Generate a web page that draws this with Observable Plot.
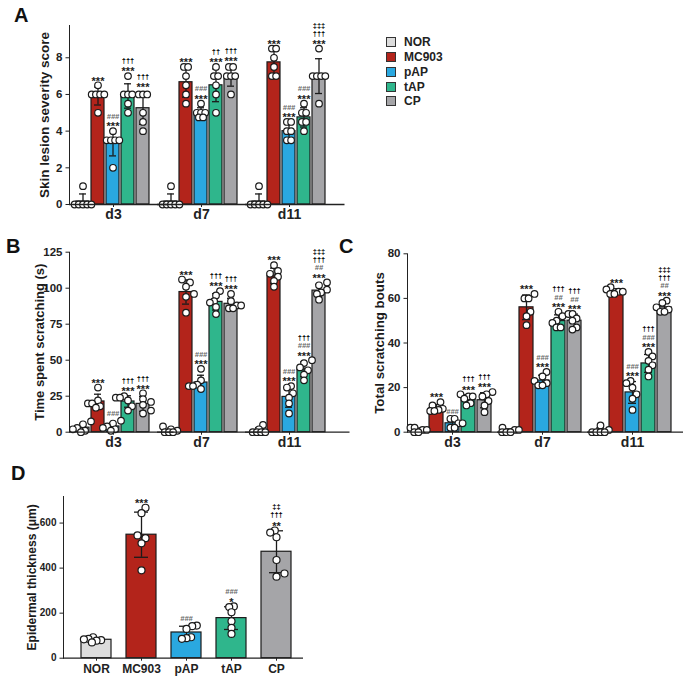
<!DOCTYPE html>
<html><head><meta charset="utf-8">
<script src="https://cdn.jsdelivr.net/npm/d3@7"></script>
<script src="https://cdn.jsdelivr.net/npm/@observablehq/plot@0.6"></script>
<style>
body{margin:0;background:#fff;}
#root{position:relative;width:685px;height:679px;background:#fff;font-family:'Liberation Sans',Arial,sans-serif;overflow:hidden}
.panel{position:absolute}
.letter{position:absolute;font-weight:bold;font-size:20px;line-height:20px;color:#111}
.legend{position:absolute;left:386px;top:35px;font-size:12px;font-weight:bold;color:#222}
.legend .row{height:14.75px;display:flex;align-items:center}
.legend .sw{width:10px;height:10px;box-sizing:border-box;border:1px solid #333;margin-right:8px}
</style></head>
<body><div id="root"></div>
<script>
// ---------- data ----------
const groups = ["NOR", "MC903", "pAP", "tAP", "CP"];
const colors = ["#dcdcdc", "#b3241b", "#2aa8e0", "#2fb68c", "#a5a5a8"];
const days = ["d3", "d7", "d11"];

// A: skin lesion severity score (individual animals, per group)
const skinD3  = [[1,0,0,0,0,0],[6.5,6,6,6,6,5],[4,3.5,3.5,3.5,3.5,2],[7,6,6,6,5.5,5],[6,6,6,5,4.5,4]];
const skinD7  = [[1,0,0,0,0,0],[7.5,7.5,7,6.5,6,5.5],[5.5,5,5,5,4.75,4.75],[7.5,7,7,6.5,6,5],[7.5,7.5,7,7,7,6]];
const skinD11 = [[1,0,0,0,0,0],[8.5,8.5,8,7.5,7,7],[4.5,4.5,4,4,3.5,3.5],[5.5,5,5,4.5,4.5,4],[8.5,7,7,7,7,5.5]];
// B: time spent scratching (s)
const timeD3  = [[7.5,5.5,3,2,1,0],[31,22,20,20,18,17],[8,6,4,3,2,1],[25,24,24,22,18,15],[27,23,21,19,15,13]];
const timeD7  = [[4,2,1,0,0,0],[106,104,101,96,94,83],[44,36,33,32,32,30],[98,95,91,90,87,82],[96,91,88,88,86,86]];
const timeD11 = [[5,2,0,0,0,0],[116,112,110,108,105,101],[32,31,27,24,20,13],[50,48,45,43,40,36],[104,102,99,97,96,92]];
// C: total scratching bouts
const boutsD3  = [[2,2,1,1,0,0],[13.5,12,10.5,10,9.5,9.5],[6,6,4,4,2,2],[17,16,16,15,13,12],[18,17,16,14,12,9]];
const boutsD7  = [[2,1,1,0,0,0],[62,60,60,54,52,48],[27,25,23,22,21,21],[54,52,50,49,47,47],[53,53,51,50,47,46]];
const boutsD11 = [[3,1,0,0,0,0],[65,64,63,63,62,62],[23,22,20,17,15,10],[36,34,32,30,28,25],[59,58,56,55,54,54]];
// D: epidermal thickness (µm)
const epiNOR   = [93,86,84,80,78,70];
const epiMC903 = [668,644,545,533,510,390];
const epiPAP   = [145,142,130,93,89,86];
const epiTAP   = [230,227,204,164,135,108];
const epiCP    = [567,558,537,436,376,362];

// significance marks, top line first
const annA = [
  [[], ["***"], ["###","***"], ["†††","***"], ["†††","***"]],
  [[], ["***"], ["###","***"], ["††","***"], ["†††","***"]],
  [[], ["***"], ["###","***"], ["###","***"], ["‡‡‡","†††","***"]]
];
const annB = [
  [[], ["***"], ["###"], ["†††","***"], ["†††","***"]],
  [[], ["***"], ["###","***"], ["†††","***"], ["†††","***"]],
  [[], ["***"], ["###","***"], ["†††","###","***"], ["‡‡‡","†††","##","***"]]
];
const annC = [
  [[], ["***"], ["###"], ["†††","***"], ["†††","***"]],
  [[], ["***"], ["###","***"], ["†††","##","***"], ["†††","##","***"]],
  [[], ["***"], ["###","***"], ["†††","###","***"], ["‡‡‡","†††","##","***"]]
];
const annD = [[], ["***"], ["###"], ["###","*"], ["‡‡","†††","**"]];

// ---------- helpers ----------
const INK = "#1b1b1b";
const SHIFTS = [0, 4, -4, 8, -8];
function makeSpread(step, minDist) {
  return function (index, scales, values, dims, ctx, next) {
    const X0 = values.x, Y = values.y, X = Array.from(X0);
    for (const idx of d3.group(index, i => Math.round(X0[i])).values()) {
      const order = [...idx].sort((a, b) => Y[b] - Y[a]);
      const rows = [];
      for (const i of order) {
        const r = rows[rows.length - 1];
        if (r && Math.abs(Y[i] - Y[r[0]]) <= 2.5) r.push(i); else rows.push([i]);
      }
      const placed = [];
      for (const row of rows) {
        const base = row.map((_, j) => (j - (row.length - 1) / 2) * step);
        let best = 0, bestScore = -Infinity;
        for (const s of SHIFTS) {
          let m = Infinity;
          row.forEach((i, j) => { for (const [px, py] of placed) m = Math.min(m, Math.hypot(base[j] + s - px, Y[i] - py)); });
          if (m >= minDist) { best = s; break; }
          if (m > bestScore) { bestScore = m; best = s; }
        }
        row.forEach((i, j) => { const o = base[j] + best; X[i] = X0[i] + o; placed.push([o, Y[i]]); });
      }
    }
    return next(index, scales, {...values, x: X}, dims, ctx);
  };
}

const kinds = {
  star:   {fontSize: 11,  fill: INK,    fontStyle: "normal", off: 6.3},
  hash:   {fontSize: 7.5, fill: "#666", fontStyle: "italic", off: 2.6},
  dagger: {fontSize: 7.5, fill: "#000", fontStyle: "normal", off: 2.0}
};

function barPanel(cfg) {
  const faceted = cfg.days.length > 1;
  const bars = [], pts = [], notes = [];
  cfg.days.forEach((day, di) => groups.forEach((g, gi) => {
    const v = cfg.series[di][gi];
    const mean = d3.mean(v), sd = d3.deviation(v);
    const top = Math.max(d3.max(v), mean + sd);
    bars.push({day, group: g, mean, sd, top});
    v.forEach(val => pts.push({day, group: g, v: val}));
    const a = cfg.notes[di][gi];
    a.forEach((s, i) => notes.push({day, group: g, top, s, level: a.length - 1 - i,
      kind: s[0] === "*" ? "star" : s[0] === "#" ? "hash" : "dagger"}));
  }));
  const F = faceted ? {fx: "day"} : {};
  const marks = [
    Plot.barY(bars, {...F, x: "group", y1: 0, y2: "mean", fill: "group", stroke: INK, strokeWidth: 1.2}),
    Plot.ruleX(bars, {...F, x: "group", y1: d => Math.max(0, d.mean - d.sd), y2: d => d.mean + d.sd, stroke: INK, strokeWidth: 1.3}),
    Plot.tickY(bars, {...F, x: "group", y: d => d.mean + d.sd, stroke: INK, strokeWidth: 1.3, insetLeft: cfg.cap, insetRight: cfg.cap}),
    Plot.tickY(bars.filter(d => d.mean - d.sd > 0), {...F, x: "group", y: d => d.mean - d.sd, stroke: INK, strokeWidth: 1.3, insetLeft: cfg.cap, insetRight: cfg.cap}),
    Plot.dot(pts, {...F, x: "group", y: "v", r: cfg.r, fill: "white", stroke: INK, strokeWidth: 1.2, render: makeSpread(cfg.step, 5.5)}),
    Plot.ruleY([0], {stroke: "#222", strokeWidth: 1.3, insetRight: -cfg.extend}),
    Plot.text([cfg.yTitle], {text: d => d, frameAnchor: "left", textAnchor: "middle", lineAnchor: "middle", rotate: -90, dx: cfg.titleDx, fontSize: cfg.titleSize,
      fontWeight: "bold", fill: INK, ...(faceted ? {facetAnchor: "left"} : {})}),
    faceted
      ? Plot.axisFx({anchor: "bottom", label: null, tickSize: 3, tickPadding: 1.5, fontSize: 14, fontWeight: "bold"})
      : Plot.axisX({anchor: "bottom", label: null, tickSize: 3, tickPadding: 3, fontSize: 12, fontWeight: "bold"})
  ];
  for (const [kind, st] of Object.entries(kinds)) for (let k = 0; k < 4; k++) {
    const rows = notes.filter(n => n.kind === kind && n.level === k);
    if (!rows.length) continue;
    marks.push(Plot.text(rows, {...F, x: "group", y: "top", text: "s", lineAnchor: "bottom",
      dy: -(cfg.base + k * cfg.sp) + st.off, fontSize: st.fontSize, fill: st.fill, fontStyle: st.fontStyle, fontWeight: "bold"}));
  }
  const svg = Plot.plot({
    width: cfg.width, height: cfg.height,
    marginLeft: cfg.mL, marginRight: cfg.mR, marginTop: cfg.mT, marginBottom: cfg.mB,
    style: {fontFamily: "'Liberation Sans', Arial, sans-serif", fontWeight: "bold", fontSize: cfg.tickSize + "px", color: "#222", overflow: "visible", background: "transparent"},
    ...(faceted ? {fx: {domain: cfg.days, padding: 0, label: null}} : {}),
    x: {domain: groups, paddingInner: cfg.pi, paddingOuter: cfg.po, align: cfg.align, label: null, ...(faceted ? {axis: null} : {})},
    y: {domain: cfg.yDomain, ticks: cfg.yTicks, tickSize: 3.5, tickPadding: 3.5, line: true, label: null, tickFormat: d => String(d)},
    color: {domain: groups, range: colors},
    marks
  });
  const wrap = document.createElement("div");
  wrap.className = "panel";
  wrap.style.left = cfg.left + "px";
  wrap.style.top = cfg.top + "px";
  wrap.appendChild(svg);
  return wrap;
}

// ---------- layout ----------
const root = document.getElementById("root");

root.appendChild(barPanel({
  left: 0, top: 0, width: 360, height: 230, mL: 68, mR: 26.5, mT: 25, mB: 26, extend: 11.5,
  days, series: [skinD3, skinD7, skinD11], notes: annA,
  yDomain: [0, 9.76], yTicks: [0, 2, 4, 6, 8], yTitle: "Skin lesion severity score", titleDx: -25, titleSize: 13.5,
  tickSize: 11.5, pi: 0.12, po: 0.325, align: 0.5, cap: 3, r: 3.3, step: 4.2, base: 7, sp: 7.9
}));
root.appendChild(barPanel({
  left: 0, top: 230, width: 360, height: 230, mL: 68, mR: 26.5, mT: 21.7, mB: 28.3, extend: 16.5,
  days, series: [timeD3, timeD7, timeD11], notes: annB,
  yDomain: [0, 125], yTicks: [0, 25, 50, 75, 100, 125], yTitle: "Time spent scratching (s)", titleDx: -29.5, titleSize: 13,
  tickSize: 11.5, pi: 0.12, po: 0.325, align: 0.5, cap: 3, r: 3.3, step: 4.2, base: 7, sp: 7.8
}));
root.appendChild(barPanel({
  left: 340, top: 230, width: 345, height: 230, mL: 67, mR: 8, mT: 23.3, mB: 28.3, extend: 6,
  days, series: [boutsD3, boutsD7, boutsD11], notes: annC,
  yDomain: [0, 80], yTicks: [0, 20, 40, 60, 80], yTitle: "Total scratching bouts", titleDx: -28, titleSize: 13.3,
  tickSize: 11.5, pi: 0.12, po: 0.325, align: 0.5, cap: 3, r: 3.3, step: 4.2, base: 7, sp: 7.8
}));
root.appendChild(barPanel({
  left: 0, top: 460, width: 320, height: 219, mL: 63, mR: 17, mT: 36, mB: 21.3, extend: 0,
  days: ["all"], series: [[epiNOR, epiMC903, epiPAP, epiTAP, epiCP]], notes: [annD],
  yDomain: [0, 718], yTicks: [0, 200, 400, 600], yTitle: "Epidermal thickness (\u03bcm)", titleDx: -31, titleSize: 12,
  tickSize: 10, pi: 0.34, po: 0.307, align: 0.6, cap: 8, r: 3.5, step: 4.6, base: 7, sp: 8.3
}));

// panel letters
[["A", 14, 5], ["B", 6, 236], ["C", 339, 236], ["D", 11, 463]].forEach(([t, x, y]) => {
  const d = document.createElement("div");
  d.className = "letter"; d.textContent = t; d.style.left = x + "px"; d.style.top = y + "px";
  root.appendChild(d);
});

// legend
const leg = document.createElement("div");
leg.className = "legend";
groups.forEach((g, i) => {
  const row = document.createElement("div");
  row.className = "row";
  const sw = document.createElement("span");
  sw.className = "sw"; sw.style.background = colors[i];
  const lab = document.createElement("span");
  lab.textContent = g;
  row.appendChild(sw); row.appendChild(lab);
  leg.appendChild(row);
});
root.appendChild(leg);
</script></body></html>
